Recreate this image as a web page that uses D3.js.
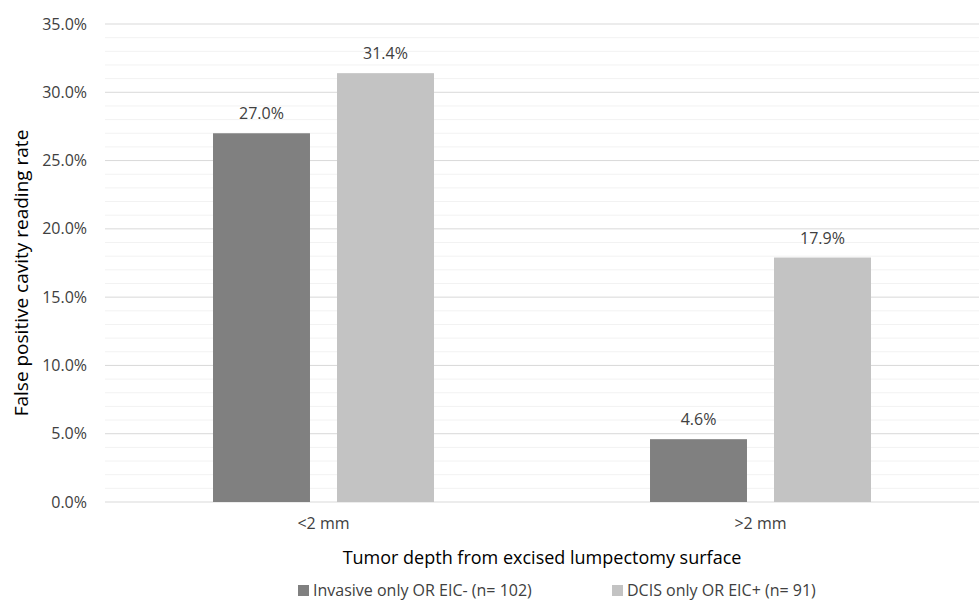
<!DOCTYPE html>
<html><head><meta charset="utf-8">
<script src="https://cdn.jsdelivr.net/npm/d3@7"></script>
<style>body{margin:0;background:#fff;}svg{display:block;font-family:"Open Sans","Liberation Sans",sans-serif;}</style>
</head><body>
<svg id="chart" width="979" height="603"></svg>
<script>
const categories = ["<2 mm", ">2 mm"];
const seriesNames = ["Invasive only OR EIC- (n= 102)", "DCIS only OR EIC+ (n= 91)"];
const invasiveValues = [27.0, 4.6];
const dcisValues = [31.4, 17.9];
const yTicks = [0, 5, 10, 15, 20, 25, 30, 35];
const colors = ["#808080", "#c3c3c3"];
const FONT = "'Open Sans','Liberation Sans',sans-serif";

const svg = d3.select("#chart");
const m = {left: 105, right: 979, top: 24, bottom: 502};
const x0 = d3.scaleBand().domain(categories).range([m.left, m.right]).paddingInner(0).paddingOuter(0);
const x1 = d3.scaleBand().domain([0, 1]).range([0, x0.bandwidth()]).paddingInner(0.218).paddingOuter(0.871);
const y = d3.scaleLinear().domain([0, 35]).range([m.bottom, m.top]);

// minor gridlines
const minor = d3.range(0, 36, 1).filter(v => v % 5 !== 0);
svg.append("g").selectAll("line").data(minor).join("line")
  .attr("x1", m.left).attr("x2", m.right).attr("y1", d => y(d)).attr("y2", d => y(d))
  .attr("stroke", "#f2f2f2").attr("stroke-width", 1);
// major gridlines
svg.append("g").selectAll("line").data(yTicks).join("line")
  .attr("x1", m.left).attr("x2", m.right).attr("y1", d => y(d)).attr("y2", d => y(d))
  .attr("stroke", "#d9d9d9").attr("stroke-width", 1);

// y axis labels
const yAxis = d3.axisLeft(y).tickValues(yTicks).tickFormat(d => d.toFixed(1) + "%").tickSize(0).tickPadding(18);
const ya = svg.append("g").attr("transform", `translate(${m.left},0)`).call(yAxis);
ya.select(".domain").remove();
ya.selectAll("text").attr("font-size", 16).attr("fill", "#404040").attr("font-family", FONT);

// x axis labels
const xAxis = d3.axisBottom(x0).tickSize(0).tickPadding(16);
const xa = svg.append("g").attr("transform", `translate(0,${m.bottom})`).call(xAxis);
xa.select(".domain").remove();
xa.selectAll("text").attr("font-size", 16).attr("fill", "#404040").attr("font-family", FONT);

const data = categories.map((c, i) => ({cat: c, vals: [invasiveValues[i], dcisValues[i]]}));
const groups = svg.append("g").selectAll("g").data(data).join("g")
  .attr("transform", d => `translate(${x0(d.cat)},0)`);
groups.selectAll("rect").data(d => d.vals.map((v, k) => ({v, k}))).join("rect")
  .attr("x", d => x1(d.k)).attr("width", x1.bandwidth())
  .attr("y", d => y(d.v)).attr("height", d => y(0) - y(d.v))
  .attr("fill", d => colors[d.k]);
groups.selectAll("text").data(d => d.vals.map((v, k) => ({v, k}))).join("text")
  .attr("x", d => x1(d.k) + x1.bandwidth() / 2).attr("y", d => y(d.v) - 14)
  .attr("text-anchor", "middle").attr("font-size", 16).attr("fill", "#404040")
  .text(d => d.v.toFixed(1) + "%");

// axis titles
svg.append("text").attr("transform", `translate(28,273) rotate(-90)`)
  .attr("text-anchor", "middle").attr("font-size", 19).attr("fill", "#000")
  .text("False positive cavity reading rate");
svg.append("text").attr("x", (m.left + m.right) / 2).attr("y", 564)
  .attr("text-anchor", "middle").attr("font-size", 18).attr("fill", "#000")
  .text("Tumor depth from excised lumpectomy surface");

// legend
const legendX = [298, 612];
const lg = svg.append("g").selectAll("g").data(seriesNames).join("g")
  .attr("transform", (d, i) => `translate(${legendX[i]},585)`);
lg.append("rect").attr("x", 0).attr("y", 0).attr("width", 11).attr("height", 11).attr("fill", (d, i) => colors[i]);
lg.append("text").attr("x", 15).attr("y", 11).attr("font-size", 16).attr("fill", "#404040").text(d => d);
</script>
</body></html>
